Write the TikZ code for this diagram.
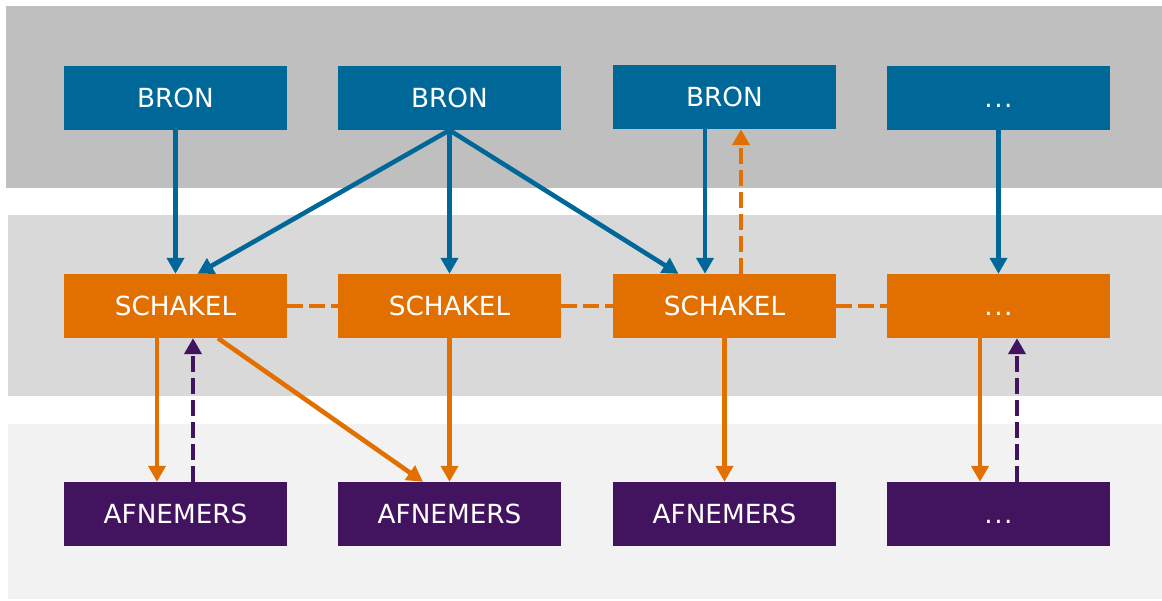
\documentclass[tikz,border=0pt]{standalone}
\usepackage{fontspec}
\setmainfont{DejaVu Sans}
\usetikzlibrary{arrows.meta}
\definecolor{cblue}{RGB}{0,104,153}
\definecolor{corange}{RGB}{225,112,0}
\definecolor{cpurple}{RGB}{66,20,95}
\definecolor{gtop}{RGB}{191,191,191}
\definecolor{gmid}{RGB}{217,217,217}
\definecolor{gbot}{RGB}{242,242,242}
\newcommand{\mydots}{{.}\kern1.5pt{.}\kern1.5pt{.}}
\begin{document}
\begin{tikzpicture}[x=1pt,y=-1pt,
  box/.style={minimum width=223pt,minimum height=64pt,inner sep=0pt,text height=19pt,text depth=0pt,text=white,font=\fontsize{26.3}{30}\selectfont},
  bron/.style={box,fill=cblue},
  schakel/.style={box,fill=corange},
  afn/.style={box,fill=cpurple},
  arr/.style={line width=4.6pt,-{Triangle[width=17pt,length=16pt]},shorten >=0pt},
  dsh/.style={line width=4.6pt,dash pattern=on 16pt off 6pt},
]
\useasboundingbox (0,0) rectangle (1162,600);
\fill[gtop] (6,6) rectangle (1162,188);
\fill[gmid] (8,215) rectangle (1162,396);
\fill[gbot] (8,424) rectangle (1162,599);

\node[bron] (b1) at (175.5,98) {BRON};
\node[bron] (b2) at (449.5,98) {BRON};
\node[bron] (b3) at (724.5,97) {BRON};
\node[bron] (b4) at (998.5,98) {\mydots};

\node[schakel] (s1) at (175.5,306) {SCHAKEL};
\node[schakel] (s2) at (449.5,306) {SCHAKEL};
\node[schakel] (s3) at (724.5,306) {SCHAKEL};
\node[schakel] (s4) at (998.5,306) {\mydots};

\node[afn] (a1) at (175.5,514) {AFNEMERS};
\node[afn] (a2) at (449.5,514) {AFNEMERS};
\node[afn] (a3) at (724.5,514) {AFNEMERS};
\node[afn] (a4) at (998.5,514) {\mydots};

% dashed horizontal links
\draw[corange,dsh] (s1.east) -- (s2.west);
\draw[corange,dsh] (s2.east) -- (s3.west);
\draw[corange,dsh] (s3.east) -- (s4.west);

% blue arrows
\draw[cblue,arr] (b1.south) -- (s1.north);
\draw[cblue,arr] (b2.south) -- ([xshift=22pt]s1.north);
\draw[cblue,arr] (b2.south) -- (s2.north);
\draw[cblue,arr] (b2.south) -- ([xshift=-46pt]s3.north);
\draw[cblue,arr] ([xshift=-19.5pt]b3.south) -- ([xshift=-19.5pt]s3.north);
\draw[cblue,arr] (b4.south) -- (s4.north);

% orange dashed up
\draw[corange,dsh,arr] ([xshift=16.5pt]s3.north) -- ([xshift=16.5pt]b3.south);

% orange arrows down
\draw[corange,arr] ([xshift=-18.5pt]s1.south) -- ([xshift=-18.5pt]a1.north);
\draw[corange,arr] ([xshift=42.5pt]s1.south) -- ([xshift=-26.5pt]a2.north);
\draw[corange,arr] (s2.south) -- (a2.north);
\draw[corange,arr] (s3.south) -- (a3.north);
\draw[corange,arr] ([xshift=-18.5pt]s4.south) -- ([xshift=-18.5pt]a4.north);

% purple dashed up
\draw[cpurple,dsh,arr] ([xshift=17.5pt]a1.north) -- ([xshift=17.5pt]s1.south);
\draw[cpurple,dsh,arr] ([xshift=18.5pt]a4.north) -- ([xshift=18.5pt]s4.south);
\end{tikzpicture}
\end{document}
